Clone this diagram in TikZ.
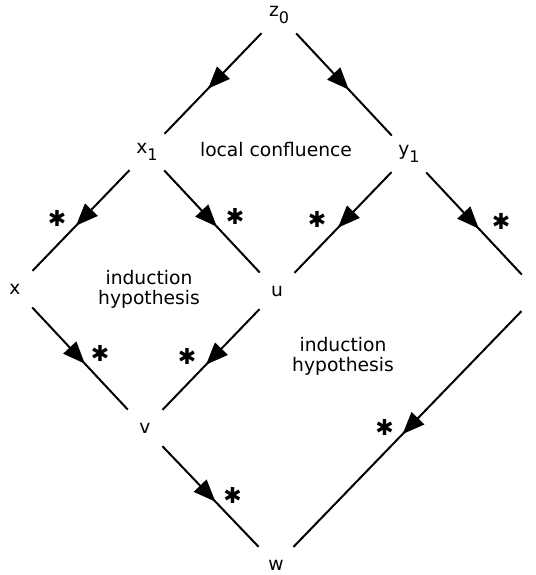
\documentclass[tikz,border=0pt]{standalone}
\usepackage{fontspec}
\setmainfont{DejaVu Sans}
\usetikzlibrary{calc,decorations.markings}
\newcommand\lowsub[1]{\raisebox{-7pt}{\fontsize{16}{16}\selectfont #1}}
\tikzset{
  vert/.style={circle, minimum size=50pt, inner sep=0pt, font=\fontsize{18.7}{20}\selectfont},
  edge/.style={line width=2pt, postaction={decorate},
    decoration={markings, mark=at position 0.5 with {\fill (7pt,0pt) -- (-15pt,9pt) -- (-15pt,-9pt) -- cycle;}}},
  starmark/.style={font=\fontsize{22}{22}\selectfont, inner sep=0pt},
  region/.style={align=center, font=\fontsize{18.7}{20}\selectfont}
}
\begin{document}
\begin{tikzpicture}[x=1pt,y=-1pt]
\useasboundingbox (0,0) rectangle (535,575);
\node[vert] (z0) at (279,15) {z\lowsub{0}};
\node[vert] (x1) at (147,152) {x\lowsub{1}};
\node[vert] (y1) at (409,154) {y\lowsub{1}};
\node[vert] (x)  at (15,289) {x};
\node[vert] (u)  at (277,291) {u};
\node[vert] (r)  at (539,293) {};
\node[vert] (v)  at (145,428) {v};
\node[vert] (w)  at (276,565) {w};

\draw[edge] (z0) -- (x1);
\draw[edge] (z0) -- (y1);
\draw[edge] (x1) -- (x);
\draw[edge] (x1) -- (u);
\draw[edge] (y1) -- (u);
\draw[edge] (y1) -- (r);
\draw[edge] (x) -- (v);
\draw[edge] (u) -- (v);
\draw[edge] (v) -- (w);
\draw[edge] (r) -- (w);

\node[starmark] (s1) at ($(x1)!0.5!(x)+(-24,-2)$) {✱};
\node[starmark] (s2) at ($(x1)!0.5!(u)+(23,-5)$) {✱};
\node[starmark] (s3) at ($(y1)!0.5!(u)+(-26,-3)$) {✱};
\node[starmark] (s4) at ($(y1)!0.5!(r)+(27,-2)$) {✱};
\node[starmark] (s5) at ($(x)!0.5!(v)+(20,-5)$) {✱};
\node[starmark] (s6) at ($(u)!0.5!(v)+(-24,-3)$) {✱};
\node[starmark] (s7) at ($(v)!0.5!(w)+(22,-1)$) {✱};
\node[starmark] (s8) at ($(r)!0.5!(w)+(-23,-2)$) {✱};

\node[region] (lc) at (276,150) {local confluence};
\node[region] (ih1) at (149,289) {induction\\hypothesis};
\node[region] (ih2) at (343,356) {induction\\hypothesis};
\end{tikzpicture}
\end{document}
